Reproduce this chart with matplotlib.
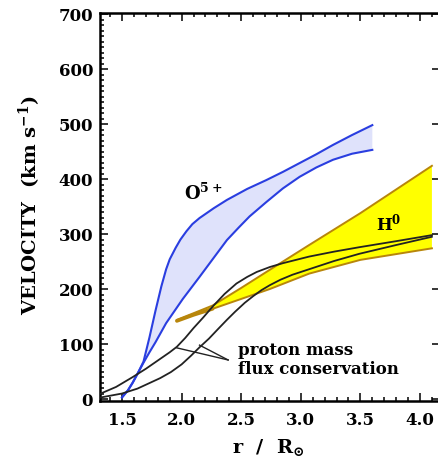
import matplotlib
matplotlib.use('Agg')
import matplotlib.pyplot as plt
from matplotlib.ticker import MultipleLocator

plt.rcParams['font.family'] = ['DejaVu Serif']
plt.rcParams['font.weight'] = 'bold'
plt.rcParams['mathtext.fontset'] = 'dejavuserif'
plt.rcParams['mathtext.default'] = 'bf'

# O5+ outflow band (upper / lower bounds)
o5_up_r = [1.50, 1.55, 1.59, 1.63, 1.68, 1.73, 1.78, 1.83, 1.87, 1.90, 1.95, 1.99, 2.04, 2.09, 2.15, 2.27, 2.38, 2.55, 2.71, 2.85, 2.99, 3.13, 3.27, 3.43, 3.60]
o5_up_v = [3, 16, 30, 46, 68, 112, 160, 205, 236, 254, 275, 290, 305, 318, 329, 347, 362, 382, 398, 413, 429, 445, 462, 480, 498]
o5_lo_r = [1.50, 1.55, 1.59, 1.63, 1.68, 1.73, 1.78, 1.87, 1.94, 2.01, 2.08, 2.15, 2.27, 2.38, 2.48, 2.57, 2.71, 2.85, 2.99, 3.13, 3.27, 3.43, 3.60]
o5_lo_v = [3, 16, 30, 46, 66, 85, 103, 138, 160, 182, 202, 222, 257, 289, 312, 332, 358, 383, 404, 421, 435, 446, 453]

# H0 band
h0_r = [1.96, 2.10, 2.26, 2.50, 2.74, 3.07, 3.50, 4.10]
h0_up = [144, 156, 170, 202, 235, 280, 338, 424]
h0_lo = [142, 153, 164, 182, 200, 228, 253, 274]

# proton mass flux conservation curves
pa_r = [1.30, 1.45, 1.59, 1.70, 1.82, 1.90, 1.96, 2.03, 2.10, 2.18, 2.26, 2.36, 2.46, 2.55, 2.63, 2.74, 2.85, 3.07, 3.28, 3.49, 3.80, 4.10]
pa_v = [8, 22, 40, 55, 73, 85, 95, 111, 129, 148, 168, 191, 210, 222, 231, 240, 247, 259, 268, 276, 287, 298]
pb_r = [1.30, 1.50, 1.63, 1.73, 1.82, 1.91, 2.00, 2.08, 2.15, 2.23, 2.30, 2.38, 2.45, 2.53, 2.60, 2.67, 2.74, 2.83, 2.93, 3.07, 3.28, 3.49, 3.80, 4.10]
pb_v = [2, 10, 19, 29, 38, 49, 63, 79, 94, 110, 126, 144, 159, 175, 187, 198, 207, 217, 226, 236, 251, 264, 280, 295]

BLUE = '#2a3ee0'
BLUEFILL = '#dfe2fb'
BROWN = '#b8860b'

fig = plt.figure(figsize=(4.38, 4.62), dpi=100)
ax = fig.add_axes([0.2283, 0.1331, 0.7763, 0.8387])

# O5+ band
ax.fill(o5_up_r + o5_lo_r[::-1], o5_up_v + o5_lo_v[::-1], color=BLUEFILL, lw=0, zorder=1)
ax.plot(o5_up_r, o5_up_v, color=BLUE, lw=1.5, zorder=3)
ax.plot(o5_lo_r, o5_lo_v, color=BLUE, lw=1.5, zorder=3)

# H0 band
ax.fill_between(h0_r, h0_lo, h0_up, facecolor='#ffff00', edgecolor='none', zorder=2)
ax.plot(h0_r, h0_up, color=BROWN, lw=1.4, zorder=2.5)
ax.plot(h0_r, h0_lo, color=BROWN, lw=1.4, zorder=2.5)
ax.plot(h0_r[:3], h0_lo[:3], color=BROWN, lw=2.6, zorder=2.5, solid_capstyle='round')

# proton curves
ax.plot(pa_r, pa_v, color='#222222', lw=1.3, zorder=4)
ax.plot(pb_r, pb_v, color='#222222', lw=1.3, zorder=4)

# pointer lines
ax.plot([2.39, 1.96], [71, 93], color='#222222', lw=1.0, zorder=4)
ax.plot([2.39, 2.15], [71, 98], color='#222222', lw=1.0, zorder=4)

ax.text(2.47, 89, 'proton mass', fontsize=12, fontweight='bold', va='center', ha='left')
ax.text(2.47, 53, 'flux conservation', fontsize=12, fontweight='bold', va='center', ha='left')
ax.text(2.02, 362, 'O$^{5+}$', fontsize=13, ha='left', va='baseline')
ax.text(3.63, 307, 'H$^{0}$', fontsize=12, ha='left', va='baseline')

ax.set_xlim(1.315, 4.168)
ax.set_ylim(-2.7, 701.8)
ax.xaxis.set_major_locator(MultipleLocator(0.5))
ax.xaxis.set_minor_locator(MultipleLocator(0.1))
ax.yaxis.set_major_locator(MultipleLocator(100))
ax.yaxis.set_minor_locator(MultipleLocator(10))
ax.tick_params(which='both', direction='in', top=True, right=True, width=1.1, labelsize=12)
ax.tick_params(which='major', length=6)
ax.tick_params(which='minor', length=3)
ax.tick_params(axis='y', which='minor', right=False)
ax.tick_params(axis='x', pad=8)
ax.tick_params(axis='y', pad=5)
for lbl in ax.get_xticklabels() + ax.get_yticklabels():
    lbl.set_fontweight('bold')
for s in ax.spines.values():
    s.set_linewidth(1.8)

fig.text(30 / 438, 1 - 205 / 462, 'VELOCITY  (km s$^{-1}$)', rotation=90,
         fontsize=14, fontweight='bold', ha='center', va='center')
fig.text(268 / 438, 1 - 447 / 462, 'r  /  R$_{\\odot}$', fontsize=14,
         fontweight='bold', ha='center', va='center')

fig.savefig('out.png', dpi=100)
